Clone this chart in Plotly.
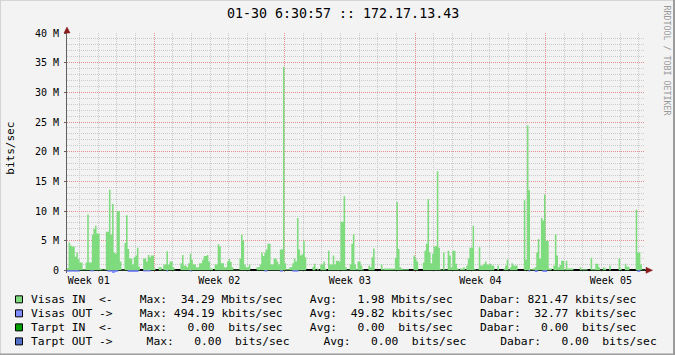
import plotly.graph_objects as go

# ---------------- data ----------------
# Visas IN, Mbit/s, 2-hour samples, one row per day (31 days)
visas_in = [
    0.4, 4.7, 4.2, 4.0, 4.0, 2.3, 3.0, 1.9, 1.3, 1.3, 0.2, 0.2,
    1.3, 9.4, 1.3, 1.3, 6.0, 7.0, 7.5, 6.2, 6.2, 0.3, 0.2, 0.1,
    0.2, 6.5, 6.5, 13.6, 6.0, 11.2, 3.0, 2.8, 10.0, 10.0, 1.5, 0.1,
    0.1, 4.6, 9.3, 3.6, 2.0, 2.0, 1.0, 2.2, 2.5, 3.8, 0.6, 0.0,
    0.0, 2.0, 2.0, 1.5, 2.6, 2.2, 2.5, 2.5, 0.3, 0.0, 0.0, 0.5,
    0.5, 0.1, 1.0, 1.0, 3.2, 1.0, 1.5, 1.5, 0.5, 0.1, 0.0, 0.0,
    0.0, 1.2, 2.6, 0.8, 0.8, 0.5, 1.2, 2.8, 1.8, 1.0, 1.0, 0.5,
    0.5, 1.2, 1.2, 1.8, 2.4, 2.4, 2.6, 1.5, 0.3, 0.3, 0.0, 1.0,
    1.0, 4.4, 4.0, 1.2, 1.2, 0.5, 0.5, 1.5, 1.9, 1.4, 0.5, 0.1,
    0.1, 0.1, 0.1, 2.0, 6.0, 5.0, 1.0, 0.5, 0.5, 1.0, 0.0, 0.0,
    0.0, 0.0, 0.5, 0.5, 1.0, 3.0, 2.4, 3.0, 3.5, 4.5, 4.5, 1.0,
    1.0, 2.0, 2.0, 1.5, 1.0, 3.5, 3.5, 34.29, 1.2, 0.2, 0.2, 0.5,
    0.5, 1.2, 2.0, 1.5, 8.8, 3.5, 2.5, 2.7, 5.0, 2.2, 0.0, 0.0,
    0.0, 0.0, 0.6, 1.1, 0.0, 0.3, 0.0, 1.0, 1.0, 1.5, 0.3, 0.0,
    3.3, 1.0, 1.0, 2.5, 1.0, 1.6, 1.6, 1.5, 8.2, 8.2, 12.5, 0.5,
    0.1, 0.1, 1.0, 4.5, 6.1, 1.0, 0.2, 1.5, 1.5, 0.8, 0.2, 0.0,
    0.0, 0.0, 0.8, 0.5, 2.2, 3.7, 0.0, 0.0, 0.0, 0.0, 1.0, 0.2,
    0.3, 0.3, 0.3, 0.3, 0.3, 0.3, 0.2, 2.1, 11.5, 3.6, 0.5, 0.3,
    0.2, 0.2, 0.2, 0.2, 0.0, 0.0, 0.0, 2.5, 2.0, 1.5, 0.0, 0.0,
    0.0, 1.3, 3.3, 4.5, 12.0, 3.0, 1.2, 2.8, 4.0, 4.1, 16.7, 3.8,
    0.2, 0.1, 3.0, 0.1, 0.1, 3.3, 2.5, 0.5, 3.3, 3.3, 1.1, 0.3,
    0.1, 0.3, 0.3, 0.5, 0.1, 0.8, 2.0, 3.8, 3.8, 7.5, 0.2, 0.1,
    0.1, 3.9, 0.8, 0.8, 1.1, 1.5, 1.0, 1.0, 1.1, 0.8, 0.8, 0.0,
    0.0, 0.8, 0.0, 0.0, 0.0, 0.3, 0.8, 1.8, 0.1, 0.5, 1.2, 0.8,
    0.8, 0.8, 0.0, 0.0, 0.0, 0.0, 11.8, 1.8, 24.4, 13.5, 0.2, 0.2,
    0.3, 0.5, 3.0, 5.3, 2.0, 8.8, 8.4, 12.8, 5.0, 5.0, 0.3, 0.3,
    0.0, 0.8, 6.1, 2.5, 0.5, 0.9, 1.6, 1.6, 0.2, 1.6, 0.3, 0.3,
    0.3, 0.3, 0.0, 0.0, 0.0, 0.0, 0.5, 0.2, 0.2, 0.2, 0.2, 0.0,
    0.0, 2.1, 0.2, 0.2, 1.1, 1.1, 0.5, 0.1, 0.1, 0.5, 0.3, 0.0,
    0.0, 0.8, 0.0, 0.0, 0.0, 0.0, 0.0, 2.0, 0.3, 0.0, 0.0, 1.1,
    0.6, 0.6, 0.0, 0.0, 0.0, 0.0, 10.2, 3.0, 3.0, 1.0, 0.1, 0.1,
]

# Visas OUT, Mbit/s (drawn below zero)
visas_out = [
    0.25, 0.25, 0.25, 0.25, 0.25, 0.25, 0.25, 0.25, 0, 0, 0, 0,
    0, 0, 0, 0.2, 0.2, 0, 0, 0, 0, 0, 0, 0,
    0, 0, 0.25, 0.25, 0.25, 0.49, 0.4, 0.3, 0.25, 0, 0, 0,
    0, 0, 0, 0.3, 0.3, 0.3, 0.3, 0.3, 0.3, 0.3, 0, 0,
    0, 0.2, 0.2, 0.2, 0.2, 0.2, 0, 0, 0, 0, 0, 0,
    0, 0, 0, 0, 0.2, 0, 0, 0, 0, 0, 0, 0,
    0, 0, 0, 0, 0, 0, 0, 0.2, 0, 0, 0, 0,
    0, 0, 0, 0, 0, 0, 0, 0, 0, 0, 0, 0,
    0, 0, 0, 0, 0, 0, 0, 0, 0, 0, 0, 0,
    0, 0, 0, 0, 0, 0, 0, 0, 0, 0, 0, 0,
    0, 0, 0, 0, 0, 0, 0, 0.2, 0.2, 0, 0, 0,
    0, 0, 0, 0, 0, 0.25, 0.25, 0, 0, 0, 0, 0,
    0, 0.25, 0.25, 0.25, 0.25, 0, 0, 0, 0, 0, 0, 0,
    0, 0, 0, 0, 0, 0, 0, 0, 0, 0, 0, 0,
    0, 0, 0, 0, 0, 0, 0, 0, 0, 0, 0, 0,
    0, 0, 0, 0, 0, 0, 0, 0, 0, 0, 0, 0,
    0, 0, 0, 0, 0, 0, 0, 0, 0, 0, 0, 0,
    0, 0, 0, 0, 0, 0, 0, 0, 0, 0, 0, 0,
    0, 0, 0, 0, 0, 0, 0, 0, 0, 0, 0, 0,
    0, 0, 0, 0, 0, 0, 0, 0, 0, 0, 0, 0,
    0, 0, 0, 0, 0, 0, 0, 0, 0, 0, 0, 0,
    0, 0, 0, 0, 0, 0, 0, 0, 0, 0, 0, 0,
    0, 0, 0, 0, 0, 0, 0, 0, 0, 0, 0, 0,
    0, 0, 0, 0, 0, 0, 0, 0, 0, 0, 0, 0,
    0, 0, 0, 0, 0, 0, 0, 0, 0, 0.2, 0, 0,
    0, 0.3, 0.3, 0, 0, 0, 0.3, 0.3, 0.3, 0, 0, 0,
    0, 0, 0, 0, 0, 0, 0, 0, 0, 0, 0, 0,
    0, 0, 0, 0, 0, 0, 0, 0, 0, 0, 0, 0,
    0, 0, 0, 0, 0, 0, 0, 0, 0, 0, 0, 0,
    0, 0, 0, 0, 0, 0, 0, 0, 0, 0, 0, 0,
    0, 0, 0, 0, 0, 0, 0, 0.3, 0.3, 0, 0, 0,
]

sample_hours = 2
week_lines = [4.67, 11.67, 18.67, 25.67]          # Monday 00:00 (days from start)
week_centers = [1.17, 8.17, 15.17, 22.17, 29.17]
week_labels = ["Week 01", "Week 02", "Week 03", "Week 04", "Week 05"]
first_midnight = 0.67
y_ticks = [0, 5, 10, 15, 20, 25, 30, 35, 40]
y_ticktext = ["0", "5 M", "10 M", "15 M", "20 M", "25 M", "30 M", "35 M", "40 M"]

title_text = "01-30 6:30:57 :: 172.17.13.43"
series_names = ["Visas IN  <-", "Visas OUT ->", "Tarpt IN  <-", "Tarpt OUT ->"]
series_colors = ["#7EDB7E", "#7F8CFF", "#00A000", "#5470C8"]
max_vals = [34.29, 494.19, 0.00, 0.00]
max_units = ["M", "k", " ", ""]
avg_vals = [1.98, 49.82, 0.00, 0.00]
avg_units = ["M", "k", " ", ""]
cur_vals = [821.47, 32.77, 0.00, 0.00]
cur_units = ["k", "k", " ", ""]
tarpt_in = [0.0] * len(visas_in)

# ---------------- geometry ----------------
W, H = 675, 355
L, R, T, B = 67, 30, 33, 82.3
PW, PH = W - L - R, H - T - B

def px(x):
    return (x - L) / PW

def py(y):
    return (H - B - y) / PH

FONT = "DejaVu Sans Mono"
BG = "#F3F3F3"
GRID = "#CACACA"
MGRID = "#E38E8E"
ARROW = "#8B1A1A"

n = len(visas_in)
x_days = [i * sample_hours / 24 for i in range(n + 1)]
x_end = x_days[-1]

fig = go.Figure()
fig.add_trace(go.Scatter(x=x_days[:-1], y=tarpt_in, mode="lines", line=dict(width=0, color=series_colors[2]),
                         opacity=0, hoverinfo="skip", showlegend=False, xaxis="x", yaxis="y"))
fig.add_trace(go.Scatter(x=x_days, y=visas_in + [visas_in[-1]], mode="lines",
                         line=dict(width=0, shape="hv", color=series_colors[0]),
                         fill="tozeroy", fillcolor=series_colors[0],
                         hoverinfo="skip", showlegend=False, xaxis="x2", yaxis="y"))
fig.add_trace(go.Scatter(x=x_days, y=[-v for v in visas_out] + [-visas_out[-1]], mode="lines",
                         line=dict(width=0, shape="hv", color=series_colors[1]),
                         fill="tozeroy", fillcolor=series_colors[1],
                         hoverinfo="skip", showlegend=False, xaxis="x2", yaxis="y"))

ann = []
shapes = []

ann.append(dict(text=title_text, x=px(342.5), y=py(13.5), xref="paper", yref="paper",
                xanchor="center", yanchor="middle", showarrow=False,
                font=dict(family=FONT, size=13.3, color="#000000")))
ann.append(dict(text="bits/sec", x=px(11), y=py(148.5), xref="paper", yref="paper",
                xanchor="center", yanchor="middle", showarrow=False, textangle=-90,
                font=dict(family=FONT, size=11, color="#000000")))
ann.append(dict(text="RRDTOOL / TOBI OETIKER", x=px(666.5), y=py(60), xref="paper", yref="paper",
                xanchor="center", yanchor="middle", showarrow=False, textangle=90,
                font=dict(family=FONT, size=8.3, color="#9A9A9A")))

row_y = [299, 313, 327, 341]
NB = "\u00a0"
for k in range(4):
    if k < 3:
        s = (f"{series_names[k]}    Max:{max_vals[k]:7.2f} {max_units[k]}bits/sec"
             f"    Avg:{avg_vals[k]:7.2f} {avg_units[k]}bits/sec"
             f"    Dabar:{cur_vals[k]:7.2f} {cur_units[k]}bits/sec")
    else:
        s = (f"{series_names[k]}     Max:{max_vals[k]:7.2f}  {max_units[k]}bits/sec"
             f"     Avg:{avg_vals[k]:7.2f}  {avg_units[k]}bits/sec"
             f"     Dabar:{cur_vals[k]:7.2f}  {cur_units[k]}bits/sec")
    ann.append(dict(text=s.replace(" ", NB), x=px(28.5), y=py(row_y[k]), xref="paper", yref="paper",
                    xanchor="left", yanchor="middle", showarrow=False,
                    font=dict(family=FONT, size=11.3, color="#000000")))
    shapes.append(dict(type="rect", xref="paper", yref="paper",
                       x0=px(15.5), x1=px(22.5), y0=py(row_y[k] - 3.5), y1=py(row_y[k] + 3.5),
                       fillcolor=series_colors[k], line=dict(color="#000000", width=1)))

shapes.append(dict(type="path", xref="paper", yref="paper",
                   path=f"M {px(64)} {py(33)} L {px(67)} {py(27)} L {px(70)} {py(33)} Z",
                   fillcolor=ARROW, line=dict(color=ARROW, width=0.5)))
shapes.append(dict(type="line", xref="paper", yref="y", x0=1, x1=px(647), y0=0, y1=0,
                   line=dict(color="#000000", width=1.5)))
shapes.append(dict(type="path", xref="paper", yref="paper",
                   path=f"M {px(646)} {py(267)} L {px(652.5)} {py(270)} L {px(646)} {py(273)} Z",
                   fillcolor=ARROW, line=dict(color=ARROW, width=0.5)))
shapes.append(dict(type="line", xref="paper", yref="paper", x0=px(0), x1=px(W), y0=py(0.5), y1=py(0.5),
                   line=dict(color="#D4D4D4", width=1)))
shapes.append(dict(type="line", xref="paper", yref="paper", x0=px(0.5), x1=px(0.5), y0=py(0), y1=py(H),
                   line=dict(color="#D4D4D4", width=1)))
shapes.append(dict(type="line", xref="paper", yref="paper", x0=px(0), x1=px(W), y0=py(H - 1), y1=py(H - 1),
                   line=dict(color="#9C9C9C", width=2)))
shapes.append(dict(type="line", xref="paper", yref="paper", x0=px(W - 1), x1=px(W - 1), y0=py(0), y1=py(H),
                   line=dict(color="#9C9C9C", width=2)))

fig.update_layout(
    width=W, height=H,
    margin=dict(l=L, r=R, t=T, b=B, pad=0),
    paper_bgcolor=BG, plot_bgcolor=BG,
    showlegend=False,
    xaxis=dict(range=[0, x_end], domain=[0, 1], tickmode="array", tickvals=week_lines,
               showticklabels=False, ticks="",
               showgrid=True, gridcolor=MGRID, gridwidth=1, griddash="1px,1px",
               zeroline=False, showline=False, fixedrange=True,
               minor=dict(tickmode="linear", tick0=first_midnight, dtick=1, showgrid=True, gridcolor=GRID,
                          gridwidth=1, griddash="1px,1px", ticks="")),
    xaxis2=dict(range=[0, x_end], overlaying="x", side="bottom", anchor="y",
                tickmode="array", tickvals=week_centers, ticktext=week_labels, ticks="", showgrid=False,
                zeroline=False, showline=False, fixedrange=True,
                tickfont=dict(family=FONT, size=10, color="#000000")),
    yaxis=dict(range=[-0.45, 40], tickmode="array", tickvals=y_ticks, ticktext=y_ticktext,
               showgrid=True, gridcolor=MGRID, gridwidth=1, griddash="1px,1px",
               minor=dict(tickmode="linear", tick0=0, dtick=1, showgrid=True, gridcolor=GRID, gridwidth=1,
                          griddash="1px,1px", ticks=""),
               zeroline=True, zerolinecolor="#000000", zerolinewidth=1.5,
               showline=True, linecolor="#606060", linewidth=1,
               ticks="outside", ticklen=2, tickcolor="#606060", ticklabelstandoff=3,
               tickfont=dict(family=FONT, size=10, color="#000000"), fixedrange=True),
    annotations=ann,
    shapes=shapes,
)

fig.write_html("out.html")
